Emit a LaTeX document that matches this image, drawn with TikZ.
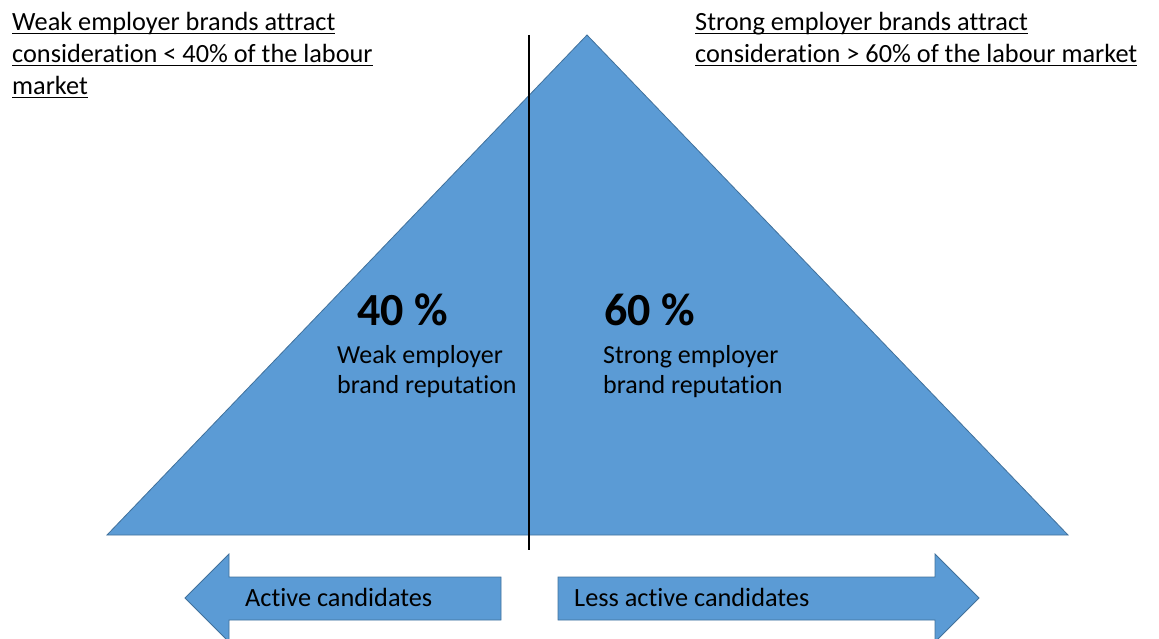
\documentclass[tikz,border=0pt]{standalone}
\usepackage{fontspec}
\setmainfont{Carlito}[Ligatures=NoCommon]
\usepackage{tikz}

\definecolor{pyrblue}{HTML}{5B9BD5}
\definecolor{pyredge}{HTML}{41719C}

\newlength\ulwd
\newcommand\ulin[1]{\settowidth\ulwd{#1}\rlap{\rule[-3.5pt]{\ulwd}{1.3pt}}#1}

\begin{document}
\begin{tikzpicture}[x=1pt,y=-1pt]
	\tikzset{bluefill/.style = {fill=pyrblue, draw=pyredge, line width=0.8pt}}
	\tikzset{txt/.style = {anchor=base west, inner sep=0, align=left, font=\fontsize{26.3}{32}\selectfont}}
	\tikzset{midtxt/.style = {txt, font=\fontsize{26}{30}\selectfont}}
	\tikzset{pct/.style = {anchor=base west, inner sep=0, font=\fontsize{46}{50}\selectfont\bfseries}}
	\useasboundingbox (0,0) rectangle (1159,639);
	% pyramid
	\filldraw[bluefill] (107,535) -- (587,35) -- (1068,535) -- cycle;
	% arrows
	\filldraw[bluefill] (185,598) -- (229,554) -- (229,577) -- (501,577) -- (501,620) -- (229,620) -- (229,642) -- cycle;
	\filldraw[bluefill] (979,598) -- (935,554) -- (935,577) -- (558,577) -- (558,620) -- (935,620) -- (935,642) -- cycle;
	% divider
	\coordinate (divtop) at (529,35);
	\coordinate (divbot) at (529,550);
	\draw[line width=1.2pt] (divtop) -- (divbot);
	% texts (base = last line)
	\node[txt] (weaknote) at (12,95) {\ulin{Weak employer brands attract}\\\ulin{consideration < 40\% of the labour}\\\ulin{market}};
	\node[txt] (strongnote) at (695,63) {\ulin{Strong employer brands attract}\\\ulin{consideration > 60\% of the labour market}};
	\node[pct] (weakpct) at (357,325) {40 \%};
	\node[pct] (strongpct) at (604,325) {60 \%};
	\node[midtxt] (weaklbl) at (337,393) {Weak employer\\brand reputation};
	\node[midtxt] (stronglbl) at (603,393) {Strong employer\\brand reputation};
	\node[txt] (active) at (245,606) {Active candidates};
	\node[txt] (lessactive) at (574,606) {Less active candidates};
\end{tikzpicture}
\end{document}
